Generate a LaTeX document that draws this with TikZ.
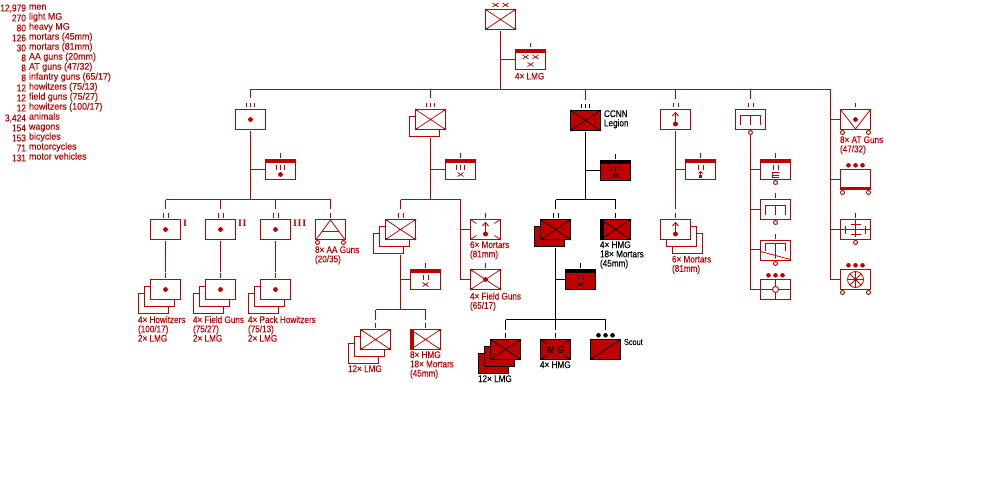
\documentclass[tikz,border=0pt]{standalone}
\usepackage{fontspec}
\setmainfont{Liberation Sans}
\newfontfamily\lblfont[FakeStretch=0.85,FakeBold=0.12]{Liberation Sans}
\newfontfamily\listfont[FakeStretch=0.93,FakeBold=0.12]{Liberation Sans}
\newfontfamily\romanfont{Liberation Serif Bold}
\usetikzlibrary{calc}
\definecolor{armyred}{HTML}{C00000}
\tikzset{
  unit/.style={draw=armyred,line width=1pt,fill=white,minimum width=30pt,minimum height=20pt,inner sep=0pt,outer sep=0pt},
  heavyunit/.style={unit,line width=1.6pt},
  cc/.style={draw=black,line width=1.2pt,fill=armyred,minimum width=30pt,minimum height=20pt,inner sep=0pt,outer sep=0pt},
  link/.style={draw=armyred,line width=1pt},
  blink/.style={draw=black,line width=1pt},
  txt/.style={inner sep=0pt,outer sep=0pt,anchor=north west,align=left,text=armyred,font=\lblfont\fontsize{9.6}{9.3}\selectfont},
  roman/.style={inner sep=0pt,outer sep=0pt,anchor=base west,text=armyred,font=\romanfont\fontsize{10}{10}\selectfont},
}
% Multi-line label: left edge and first baseline
\newcommand{\lbl}[5][armyred]{\node[txt,text=#1] (#2) at (#3,#4-7) {\rule{0pt}{7pt}#5};}
% Echelon strokes above a box: colour, box, list of x offsets
\newcommand{\ech}[3][armyred]{\foreach \dx in {#3}{\draw[#1,line width=1pt] ($(#2.north)+(\dx,-6.5)$) -- ($(#2.north)+(\dx,-2)$);}}
% Echelon strokes inside a headquarters box
\newcommand{\inech}[3][armyred]{\foreach \dx in {#3}{\draw[#1,line width=.9pt] ($(#2.center)+(\dx,-4.5)$) -- ($(#2.center)+(\dx,.5)$);}}
% Headquarters band along the top of a box
\newcommand{\band}[2][armyred]{\fill[#1] ($(#2.north west)+(-.5,-.5)$) rectangle ($(#2.north east)+(.5,3.5)$);}
% Small cross centred on a point
\newcommand{\tinyx}[4][armyred]{\draw[#1,line width=.7pt] ($(#2)+(#3-3,#4-2)$) -- ($(#2)+(#3+3,#4+2)$) ($(#2)+(#3-3,#4+2)$) -- ($(#2)+(#3+3,#4-2)$);}
% Infantry cross with small corner squares
\newcommand{\infx}[2][armyred]{\begin{scope}[shift={(#2.center)}]
  \draw[#1,line width=.7pt] (-15,-10) -- (15,10) (-15,10) -- (15,-10);
  \fill[#1] (-15.5,-10.5) rectangle (-13,-8.5) (15.5,-10.5) rectangle (13,-8.5) (-15.5,10.5) rectangle (-13,8.5) (15.5,10.5) rectangle (13,8.5);
\end{scope}}
% Short diagonals at the corners only
\newcommand{\cornerx}[2][armyred]{\begin{scope}[shift={(#2.center)}]
  \draw[#1,line width=.8pt] (-15,-10) -- (-9,-6) (15,-10) -- (9,-6) (-15,10) -- (-9,6) (15,10) -- (9,6);
\end{scope}}
% Thick bar on the left edge of a weapons box
\newcommand{\lbar}[2][armyred]{\fill[#1] ($(#2.north west)+(-.5,-.5)$) rectangle ($(#2.south west)+(3,.5)$);}
% Artillery dot
\newcommand{\adot}[3]{\fill[armyred] ($(#1.center)+(#2,#3)$) circle (2.4);}
% Mortar arrow
\newcommand{\mortar}[1]{\begin{scope}[shift={(#1.center)}]
  \draw[armyred,line width=.9pt] (0,4) -- (0,-6.5) (-3,-3.5) -- (0,-7) -- (3,-3.5);
  \fill[armyred] (0,4.5) circle (2.5);
\end{scope}}
% Wheel drawn relative to a box centre
\newcommand{\wheel}[3]{\draw[armyred,line width=.9pt,fill=white] ($(#1.center)+(#2,#3)$) circle (2);}
% Three dots of the platoon sign
\newcommand{\threedots}[3][armyred]{\foreach \dx in {-7,0,7}{\fill[#1] ($(#2)+(\dx,#3)$) circle (2.3);}}
% Rake of the transport sign: box, top y, half width, prong end y
\newcommand{\rake}[4]{\draw[armyred,line width=.9pt] ($(#1.center)+(-#3,#4)$) -- ($(#1.center)+(-#3,#2)$) -- ($(#1.center)+(#3,#2)$) -- ($(#1.center)+(#3,#4)$) ($(#1.center)+(0,#2)$) -- ($(#1.center)+(0,#4)$);}
\begin{document}
\begin{tikzpicture}[x=1pt,y=-1pt]
\useasboundingbox[fill=white] (0,0) rectangle (1000,500);

% ---- strength table
\node[txt,anchor=north east,align=right,font=\lblfont\fontsize{9.9}{10}\selectfont] (qty) at (26,4.5) {12,979\\270\\80\\126\\30\\8\\8\\8\\12\\12\\12\\3,424\\154\\153\\71\\131};
\node[txt,font=\listfont\fontsize{9.6}{10}\selectfont] (items) at (29,4.5) {men\\light MG\\heavy MG\\mortars (45mm)\\mortars (81mm)\\AA guns (20mm)\\AT guns (47/32)\\infantry guns (65/17)\\howitzers (75/13)\\field guns (75/27)\\howitzers (100/17)\\animals\\wagons\\bicycles\\motorcycles\\motor vehicles};

% ---- division headquarters
\coordinate (bus) at (500.5,89.5);
\coordinate (busw) at (250.5,89.5);
\coordinate (buse) at (830.5,89.5);
\node[heavyunit] (div) at (500.5,19.5) {};
\infx{div}
\tinyx{div.north}{-5}{-4.5}\tinyx{div.north}{5}{-4.5}
\node[unit] (divhq) at (530.5,59.5) {};
\band{divhq}\ech{divhq}{0}
\tinyx{divhq.center}{-5}{-2.5}\tinyx{divhq.center}{5}{-2.5}\tinyx{divhq.center}{0}{5}
\lbl{divhql}{515}{79.5}{4× LMG}
\draw[link,shorten <=1.5pt] (div.south) -- (bus);
\draw[link] (bus |- divhq.west) -- (divhq.west);
\draw[link] (busw) -- (buse);

% ---- artillery regiment
\node[unit] (art) at (250.5,119.5) {};
\adot{art}{0}{0}\ech{art}{-4,0,4}
\draw[link,shorten >=11pt] (busw) -- (art.north);
\node[unit] (arthq) at (280.5,169.5) {};
\band{arthq}\ech{arthq}{0}\inech{arthq}{-4,0,4}\adot{arthq}{0}{5}
\coordinate (artbus) at (250.5,199.5);
\draw[link,shorten <=1.5pt] (art.south) -- (artbus);
\draw[link] (artbus |- arthq.west) -- (arthq.west);
\coordinate (artbusw) at (165.5,199.5);
\coordinate (artbuse) at (330.5,199.5);
\draw[link] (artbusw) -- (artbuse);
% three artillery groups, each with its stacked batteries
\foreach \nm/\x in {bta/165.5,btb/220.5,btc/275.5}{
  \node[unit] (\nm) at (\x,229.5) {};
  \adot{\nm}{0}{0}\ech{\nm}{-2.5,2.5}
  \draw[link,shorten >=10.5pt] (\x,199.5) -- (\nm.north);
  \node[unit] (\nm back) at (\x-12,303.5) {};
  \node[unit] (\nm mid) at (\x-6,296.5) {};
  \node[unit] (\nm front) at (\x,289.5) {};
  \adot{\nm front}{0}{0}\ech{\nm front}{0}
  \draw[link,shorten <=1.5pt,shorten >=8pt] (\nm.south) -- (\nm front.north);
}
\node[roman] (rI) at (183,226) {I};
\node[roman] (rII) at (238,226) {I\kern.8pt I};
\node[roman] (rIII) at (293,226) {I\kern.8pt I\kern.8pt I};
\lbl{howl}{138}{323}{4× Howitzers\\(100/17)\\2× LMG}
\lbl{fgl}{193}{323}{4× Field Guns\\(75/27)\\2× LMG}
\lbl{phl}{248}{323}{4× Pack Howitzers\\(75/13)\\2× LMG}
% anti-aircraft battery
\node[unit] (aa) at (330.5,229.5) {};
\ech{aa}{0}
\draw[link,shorten >=10.5pt] (artbuse) -- (aa.north);
\begin{scope}[shift={(aa.center)}]
  \draw[armyred,line width=.8pt] (-14,9.5) -- (0,-9.5) -- (14,9.5) (-8.5,2) -- (8.5,2);
\end{scope}
\wheel{aa}{-13}{13}\wheel{aa}{13}{13}
\lbl{aal}{315}{253}{8× AA Guns\\(20/35)}

% ---- first infantry regiment
\node[unit] (infb) at (424.5,126.5) {};
\node[unit] (inf) at (430.5,119.5) {};
\infx{inf}\ech{inf}{-4,0,4}
\draw[link,shorten >=11pt] (430.5,89.5) -- (inf.north);
\node[unit] (infhq) at (460.5,169.5) {};
\band{infhq}\ech{infhq}{0}\inech{infhq}{-4,0,4}\tinyx{infhq.center}{0}{5}
\coordinate (infbus) at (430.5,199.5);
\draw[link,shorten <=1.5pt] (infb.south -| inf.center) -- (infbus);
\draw[link] (infbus |- infhq.west) -- (infhq.west);
\coordinate (infbusw) at (400.5,199.5);
\coordinate (infbuse) at (460.5,199.5);
\draw[link] (infbusw) -- (infbuse);
% battalion
\node[unit] (bn3) at (388.5,243.5) {};
\node[unit] (bn2) at (394.5,236.5) {};
\node[unit] (bn) at (400.5,229.5) {};
\infx{bn}\ech{bn}{-2.5,2.5}
\draw[link,shorten >=10.5pt] (infbusw) -- (bn.north);
\node[unit] (bnhq) at (425.5,279.5) {};
\band{bnhq}\ech{bnhq}{0}\inech{bnhq}{-2.5,2.5}\tinyx{bnhq.center}{0}{5}
\coordinate (bnbus) at (400.5,309.5);
\draw[link,shorten <=1.5pt] (bn3.south -| bn.center) -- (bnbus);
\draw[link] (bnbus |- bnhq.west) -- (bnhq.west);
\coordinate (bnbusw) at (375.5,309.5);
\coordinate (bnbuse) at (425.5,309.5);
\draw[link] (bnbusw) -- (bnbuse);
\node[unit] (co3) at (363.5,353.5) {};
\node[unit] (co2) at (369.5,346.5) {};
\node[unit] (co) at (375.5,339.5) {};
\infx{co}\ech{co}{0}
\draw[link,shorten >=10pt] (bnbusw) -- (co.north);
\node[unit] (wpn) at (425.5,339.5) {};
\infx{wpn}\lbar{wpn}\ech{wpn}{0}
\draw[link,shorten >=10pt] (bnbuse) -- (wpn.north);
\lbl{col}{348}{372}{12× LMG}
\lbl{wpnl}{410}{358}{8× HMG\\18× Mortars\\(45mm)}
% regimental mortars and field guns
\node[unit] (rmor) at (485.5,229.5) {};
\cornerx{rmor}\mortar{rmor}\ech{rmor}{0}
\node[unit] (rfg) at (485.5,279.5) {};
\infx{rfg}\adot{rfg}{0}{0}\ech{rfg}{0}
\draw[link] (infbuse) -- (infbuse |- rfg.west) -- (rfg.west);
\draw[link] (infbuse |- rmor.west) -- (rmor.west);
\lbl{rmorl}{470}{248}{6× Mortars\\(81mm)}
\lbl{rfgl}{470}{299.5}{4× Field Guns\\(65/17)}

% ---- CCNN legion
\node[cc] (leg) at (585.5,120.5) {};
\infx[black]{leg}\ech[black]{leg}{-4,0,4}
\draw[link,shorten >=10.5pt] (585.5,89.5) -- (leg.north);
\lbl[black]{legl}{604}{117}{CCNN\\Legion}
\node[cc] (leghq) at (615.5,170.5) {};
\band[black]{leghq}\ech[black]{leghq}{0}\inech[black]{leghq}{-4,0,4}\tinyx[black]{leghq.center}{0}{5}
\coordinate (legbus) at (585.5,199.5);
\draw[blink,shorten <=1.5pt] (leg.south) -- (legbus);
\draw[blink] (legbus |- leghq.west) -- (leghq.west);
\coordinate (legbusw) at (555.5,199.5);
\coordinate (legbuse) at (615.5,199.5);
\draw[blink] (legbusw) -- (legbuse);
\node[cc] (lbnb) at (549.5,236.5) {};
\node[cc] (lbn) at (555.5,229.5) {};
\infx[black]{lbn}\ech[black]{lbn}{-2.5,2.5}
\draw[blink,shorten >=10.5pt] (legbusw) -- (lbn.north);
\node[cc] (lwpn) at (615.5,229.5) {};
\infx[black]{lwpn}\lbar[black]{lwpn}\ech[black]{lwpn}{0}
\draw[blink,shorten >=10.5pt] (legbuse) -- (lwpn.north);
\lbl[black]{lwpnl}{600}{248}{4× HMG\\18× Mortars\\(45mm)}
\node[cc] (lbnhq) at (580.5,279.5) {};
\band[black]{lbnhq}\ech[black]{lbnhq}{0}\inech[black]{lbnhq}{-2.5,2.5}\tinyx[black]{lbnhq.center}{0}{5}
\coordinate (lbnbus) at (555.5,319.5);
\draw[blink,shorten <=1.5pt] (lbnb.south -| lbn.center) -- (lbnbus);
\draw[blink] (lbnbus |- lbnhq.west) -- (lbnhq.west);
\coordinate (lbnbusw) at (505.5,319.5);
\coordinate (lbnbuse) at (605.5,319.5);
\draw[blink] (lbnbusw) -- (lbnbuse);
\node[cc] (lco3) at (493.5,363.5) {};
\node[cc] (lco2) at (499.5,356.5) {};
\node[cc] (lco) at (505.5,349.5) {};
\infx[black]{lco}\ech[black]{lco}{0}
\draw[blink,shorten >=10pt] (lbnbusw) -- (lco.north);
\node[cc,font=\lblfont\fontsize{10}{10}\selectfont,text=black] (lmg) at (555.5,349.5) {M\kern3pt G};
\cornerx[black]{lmg}\ech[black]{lmg}{0}
\draw[blink,shorten >=10pt] (lbnbus) -- (lmg.north);
\node[cc] (lsct) at (605.5,349.5) {};
\draw[black,line width=.8pt] (lsct.south west) -- (lsct.north east);
\threedots[black]{lsct.north}{-4.2}
\draw[blink,shorten >=10pt] (lbnbuse) -- (lsct.north);
\lbl[black]{lcol}{478}{382}{12× LMG}
\lbl[black]{lmgl}{540}{368}{4× HMG}
\node[txt,text=black,font=\lblfont\fontsize{8.6}{8}\selectfont] (lsctl) at (624,338) {\rule{0pt}{7pt}Scout};

% ---- mortar battalion
\node[unit] (mbn) at (675.5,119.5) {};
\mortar{mbn}\ech{mbn}{-2.5,2.5}
\draw[link,shorten >=10.5pt] (675.5,89.5) -- (mbn.north);
\node[unit] (mhq) at (700.5,169.5) {};
\band{mhq}\ech{mhq}{0}\inech{mhq}{-2.5,2.5}
\begin{scope}[shift={(mhq.center)}]
  \draw[armyred,line width=.8pt] (0,6) -- (0,2) (-2,4) -- (0,2) -- (2,4);
  \fill[armyred] (-1.5,5.5) rectangle (1.5,8.5);
\end{scope}
\node[unit] (mco3) at (687.5,243.5) {};
\node[unit] (mco2) at (681.5,236.5) {};
\node[unit] (mco) at (675.5,229.5) {};
\mortar{mco}\ech{mco}{0}
\draw[link,shorten <=1.5pt,shorten >=10.5pt] (mbn.south) -- (mco.north);
\draw[link] (mbn.south |- mhq.west) -- (mhq.west);
\lbl{mcol}{672}{262.5}{6× Mortars\\(81mm)}

% ---- supply column
\node[unit] (trn) at (750.5,119.5) {};
\rake{trn}{-4.5}{10}{5.5}\ech{trn}{-2.5,2.5}\wheel{trn}{0}{13}
\draw[link,shorten >=10.5pt] (750.5,89.5) -- (trn.north);
\node[unit] (thq) at (775.5,169.5) {};
\band{thq}\ech{thq}{0}\inech{thq}{-2.5,2.5}\wheel{thq}{0}{13}
\draw[armyred,line width=.8pt] ($(thq.center)+(3,3)$) -- ($(thq.center)+(-3,3)$) -- ($(thq.center)+(-3,8)$) -- ($(thq.center)+(3,8)$) ($(thq.center)+(-3,5.5)$) -- ($(thq.center)+(3,5.5)$);
\node[unit] (tpk) at (775.5,209.5) {};
\rake{tpk}{-4.5}{10}{5.5}\ech{tpk}{0}\wheel{tpk}{0}{13}
\node[unit] (twg) at (775.5,250.5) {};
\rake{twg}{-7}{10}{0}\ech{twg}{0}\wheel{twg}{0}{13}
\draw[armyred,line width=.8pt] ($(twg.center)+(-15,1)$) -- ($(twg.center)+(15,9)$) ($(twg.center)+(0,0)$) -- ($(twg.center)+(0,8)$);
\node[unit] (tmt) at (775.5,289.5) {};
\threedots{tmt.north}{-4.2}
\draw[armyred,line width=.9pt] (tmt.west) -- (tmt.east) (tmt.north) -- (tmt.south);
\draw[armyred,line width=.9pt,fill=white] (tmt.center) circle (3);
\draw[link,shorten <=5.5pt] (trn.south) -- (trn.south |- tmt.west) -- (tmt.west);
\draw[link] (trn.south |- thq.west) -- (thq.west);
\draw[link] (trn.south |- tpk.west) -- (tpk.west);
\draw[link] (trn.south |- 0,249.5) -- (twg.west |- 0,249.5);

% ---- divisional companies
\node[unit] (atc) at (855.5,119.5) {};
\ech{atc}{0}\adot{atc}{0}{0}
\begin{scope}[shift={(atc.center)}]
  \draw[armyred,line width=.8pt] (-15,-10) -- (0,9.5) -- (15,-10);
\end{scope}
\wheel{atc}{-13}{13}\wheel{atc}{13}{13}
\lbl{atcl}{840}{143}{8× AT Guns\\(47/32)}
\node[unit] (car) at (855.5,179.5) {};
\threedots{car.north}{-4.2}
\fill[armyred] ($(car.south west)+(-.5,-3)$) rectangle ($(car.south east)+(.5,.5)$);
\wheel{car}{-13}{13}\wheel{car}{13}{13}
\node[unit] (eng) at (855.5,229.5) {};
\ech{eng}{0}\wheel{eng}{0}{13}
\begin{scope}[shift={(eng.center)}]
  \draw[armyred,line width=.9pt] (-15,0) -- (15,0) (0,-10) -- (0,7.5) (-10,-4) -- (-10,4) (10,-4) -- (10,4) (-5,-5) -- (5,-5) (-5,5) -- (5,5);
\end{scope}
\node[unit] (sig) at (855.5,279.5) {};
\threedots{sig.north}{-4.2}
\begin{scope}[shift={(sig.center)}]
  \draw[armyred,line width=.8pt] (0,0) circle (8) (-8,0) -- (8,0) (0,-8) -- (0,8) (-5.7,-5.7) -- (5.7,5.7) (-5.7,5.7) -- (5.7,-5.7);
\end{scope}
\wheel{sig}{-13}{13}\wheel{sig}{13}{13}
\draw[link] (buse) -- (buse |- sig.west) -- (sig.west);
\draw[link] (buse |- atc.west) -- (atc.west);
\draw[link] (buse |- car.west) -- (car.west);
\draw[link] (buse |- eng.west) -- (eng.west);
\end{tikzpicture}
\end{document}
